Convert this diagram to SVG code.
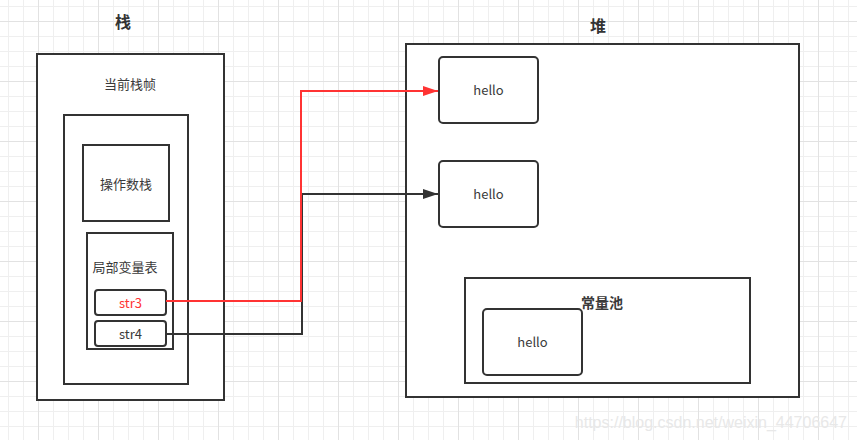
<svg xmlns="http://www.w3.org/2000/svg" width="857" height="440" viewBox="0 0 857 440">
<defs>
<pattern id="grid" x="38" y="21" width="60" height="60" patternUnits="userSpaceOnUse">
<path d="M15.5 0V60M30.5 0V60M45.5 0V60M0 15.5H60M0 30.5H60M0 45.5H60" stroke="#efefef" stroke-width="1" fill="none"/>
<path d="M0.5 0V60M0 0.5H60" stroke="#e2e2e2" stroke-width="1" fill="none"/>
</pattern>
<marker id="arrRed" markerWidth="15" markerHeight="10" refX="15" refY="5" orient="auto" markerUnits="userSpaceOnUse">
<path d="M0 0L15 5L0 10Z" fill="#ff3333"/>
</marker>
<marker id="arrBlack" markerWidth="15" markerHeight="10" refX="15" refY="5" orient="auto" markerUnits="userSpaceOnUse">
<path d="M0 0L15 5L0 10Z" fill="#333333"/>
</marker>
</defs>
<style>
.box{fill:#ffffff;stroke:#333333;stroke-width:2}
.t{font-family:"Noto Sans CJK SC","Liberation Sans",sans-serif;font-size:13px;fill:#3a3a3a;text-anchor:middle;dominant-baseline:central}
.title{font-family:"Noto Sans CJK SC",sans-serif;font-size:16px;font-weight:bold;fill:#333333;text-anchor:middle;dominant-baseline:central}
.conn{fill:none;stroke-width:2}
</style>
<rect x="0" y="0" width="857" height="440" fill="#ffffff"/>
<rect x="0" y="0" width="857" height="440" fill="url(#grid)"/>

<g id="stack-title"><text class="title" x="123" y="21">栈</text></g>
<g id="heap-title"><text class="title" x="598" y="25">堆</text></g>

<g id="stack">
<rect class="box" x="37" y="54" width="187" height="346"/>
<text class="t" x="130" y="83.5">当前栈帧</text>
</g>
<g id="frame">
<rect class="box" x="64" y="115" width="124" height="269"/>
</g>
<g id="operand-stack">
<rect class="box" x="83" y="145" width="86" height="76"/>
<text class="t" x="126" y="183.5">操作数栈</text>
</g>
<g id="local-vars">
<rect class="box" x="87" y="233" width="86" height="116"/>
<text class="t" x="125" y="266.5">局部变量表</text>
</g>
<g id="str3">
<rect class="box" x="95" y="290" width="71" height="25" rx="3"/>
<text class="t" x="130.5" y="302" style="fill:#ff3333">str3</text>
</g>
<g id="str4">
<rect class="box" x="95" y="321" width="71" height="25" rx="3"/>
<text class="t" x="130.5" y="333">str4</text>
</g>

<g id="heap">
<rect class="box" x="406" y="44" width="393" height="353"/>
</g>
<g id="hello1">
<rect class="box" x="439" y="57" width="99" height="66" rx="4"/>
<text class="t" x="488.5" y="89.5">hello</text>
</g>
<g id="hello2">
<rect class="box" x="439" y="161" width="99" height="66" rx="4"/>
<text class="t" x="488.5" y="193.5">hello</text>
</g>
<g id="constant-pool">
<rect class="box" x="465" y="278" width="285" height="105"/>
<text class="t" x="602" y="301.5" style="font-size:14px;font-weight:bold">常量池</text>
</g>
<g id="hello3">
<rect class="box" x="483" y="309" width="99" height="66" rx="4"/>
<text class="t" x="532.5" y="341.5">hello</text>
</g>

<g id="connectors">
<path class="conn" d="M166 334H302V194H438" stroke="#333333" marker-end="url(#arrBlack)"/>
<path class="conn" d="M166 301H301V91H438" stroke="#ff3333" marker-end="url(#arrRed)"/>
</g>

<text x="847" y="428" text-anchor="end" style="font-family:'Liberation Sans',sans-serif;font-size:16px;fill:#e8e8e8">https://blog.csdn.net/weixin_44706647</text>
</svg>
